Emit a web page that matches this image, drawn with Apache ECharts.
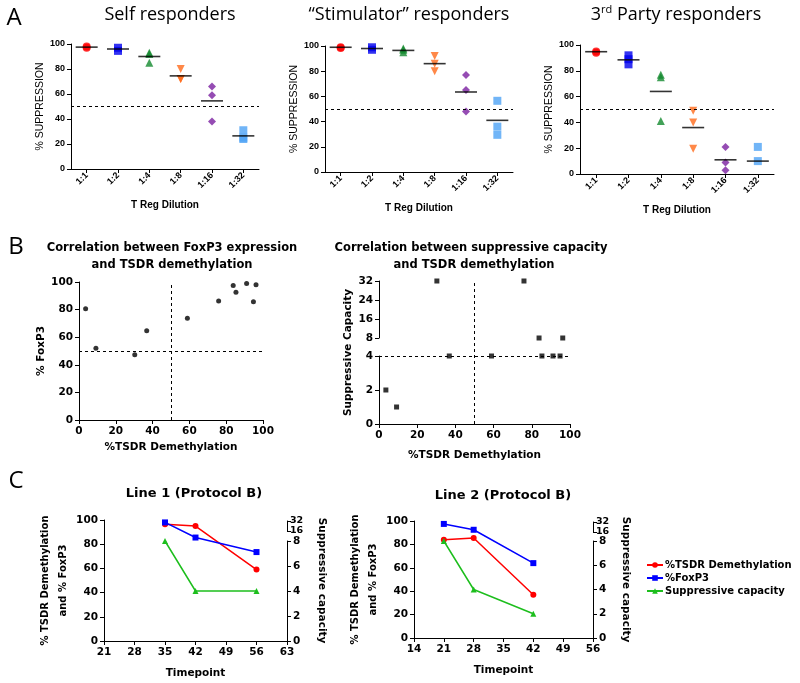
<!DOCTYPE html>
<html>
<head>
<meta charset="utf-8">
<script src="https://cdn.jsdelivr.net/npm/echarts@6/dist/echarts.min.js"></script>
<style>
  html, body { margin: 0; padding: 0; background: #fff; }
  #chart { width: 800px; height: 683px; }
</style>
</head>
<body>
<div id="chart"></div>
<script>
// ---- panel A : suppression by T reg dilution
var dilutions = ['1:1', '1:2', '1:4', '1:8', '1:16', '1:32'];
var selfValues = [[97, 98], [94.5, 97], [92, 93, 85], [80, 72, 72], [66, 59, 38], [31, 24, 25]];
var selfMeans = [97.5, 96, 90, 74.5, 54.5, 26.5];
var stimValues = [[98.5, 99], [97, 99], [95, 97, 98], [92, 86, 80], [77, 65, 48], [56.5, 36, 29.5]];
var stimMeans = [99, 98, 96.5, 86, 63.5, 41];
var thirdValues = [[94, 95], [92, 85, 89], [77, 75, 41], [49, 40, 19.5], [21, 9, 3], [21, 10]];
var thirdMeans = [94.8, 88.5, 64, 36, 11, 10];
var suppressionTicks = [0, 100, 20];

// ---- panel B : correlation, one entry per sample
var tsdr = [3.6, 9.2, 30.3, 36.8, 58.9, 75.9, 83.8, 85.3, 91.1, 94.8, 96.2];
var foxp3 = [80.6, 52, 47.2, 64.6, 73.8, 86.3, 97.4, 92.6, 99, 85.6, 98];
var capacity = [2, 1, 32, 4, 4, 32, 8, 4, 4, 4, 8];

// ---- panel C : time courses
var line1Days = [35, 42, 56];
var line1Tsdr = [96.5, 95, 59];
var line1Foxp3 = [98, 85.5, 73.5];
var line1Capacity = [8, 4, 4];
var line2Days = [21, 28, 42];
var line2Tsdr = [84, 85.5, 37];
var line2Foxp3 = [97.5, 92.5, 64];
var line2Capacity = [8, 4, 2];

var dotColors = ['#FF0000', '#0000EE', '#138A2E', '#FF6A1A', '#7A1FA0', '#4DA3F5'];
var dotSymbols = ['circle', 'rect', 'triangle', 'triangle', 'diamond', 'rect'];
var dotRotate = [0, 0, 0, 180, 0, 0];
var lineColors = { tsdr: '#FF0000', foxp3: '#0000FF', cap: '#1DBE1D' };

var gpFont = 'DejaVu Sans';
var arFont = 'Liberation Sans';

function axisBase(fontSize, family) {
    return {
        axisLine: { show: true, lineStyle: { color: '#000', width: 1 } },
        axisTick: { show: true, length: 4, lineStyle: { color: '#000', width: 1 } },
        axisLabel: { color: '#000', fontWeight: 'bold', fontSize: fontSize, fontFamily: family, margin: 6 },
        splitLine: { show: false }
    };
}
function merge(a, b) {
    for (var k in b) { a[k] = b[k]; }
    return a;
}
function hiddenAxis(grid, min, max) {
    return { type: 'value', gridIndex: grid, min: min, max: max, show: false, splitLine: { show: false } };
}
function nameOnly(grid, name, pos, gap, rot) {
    return {
        type: 'value', gridIndex: grid, position: pos, min: 0, max: 1,
        axisLine: { show: false }, axisTick: { show: false }, axisLabel: { show: false }, splitLine: { show: false },
        name: name, nameLocation: 'middle', nameGap: gap, nameRotate: rot,
        nameTextStyle: { color: '#000', fontWeight: 'bold', fontSize: 10.5, fontFamily: gpFont, lineHeight: 17 }
    };
}
var dashed = { type: [3, 3], color: '#000', width: 1 };

var grids = [
    { left: 71, top: 44, width: 188, height: 125 },
    { left: 325, top: 46, width: 188, height: 126 },
    { left: 580, top: 45, width: 194, height: 129 },
    { left: 79, top: 282, width: 184, height: 138 },
    { left: 379, top: 356, width: 191, height: 68 },
    { left: 379, top: 281, width: 191, height: 57 },
    { left: 379, top: 281, width: 191, height: 143 },
    { left: 104, top: 520, width: 183, height: 121 },
    { left: 104, top: 541, width: 183, height: 100 },
    { left: 104, top: 521, width: 183, height: 10 },
    { left: 414, top: 521, width: 179, height: 117 },
    { left: 414, top: 541, width: 179, height: 97 },
    { left: 414, top: 522, width: 179, height: 10 }
];

var xAxes = [];
var yAxes = [];
for (var g = 0; g < 3; g++) {
    xAxes.push(merge(axisBase(9, arFont), {
        type: 'category', gridIndex: g, data: dilutions,
        axisTick: { show: true, alignWithLabel: true, length: 4, lineStyle: { color: '#000' } },
        name: 'T Reg Dilution', nameLocation: 'middle', nameGap: 31,
        nameTextStyle: { color: '#000', fontWeight: 'bold', fontSize: 10, fontFamily: arFont }
    }));
    xAxes[g].axisLabel.rotate = 45;
    xAxes[g].axisLabel.margin = 5;
    yAxes.push(merge(axisBase(9, arFont), {
        type: 'value', gridIndex: g, min: suppressionTicks[0], max: suppressionTicks[1], interval: suppressionTicks[2],
        name: '% SUPPRESSION', nameLocation: 'middle', nameGap: 24,
        nameTextStyle: { color: '#000', fontSize: 10.5, fontFamily: arFont }
    }));
}
// B left
xAxes.push(merge(axisBase(10.5, gpFont), {
    type: 'value', gridIndex: 3, min: 0, max: 100, interval: 20,
    name: '%TSDR Demethylation', nameLocation: 'middle', nameGap: 22,
    nameTextStyle: { color: '#000', fontWeight: 'bold', fontSize: 10.5, fontFamily: gpFont }
}));
yAxes.push(merge(axisBase(10.5, gpFont), {
    type: 'value', gridIndex: 3, min: 0, max: 100, interval: 20,
    name: '% FoxP3', nameLocation: 'middle', nameGap: 27,
    nameTextStyle: { color: '#000', fontWeight: 'bold', fontSize: 10.5, fontFamily: gpFont }
}));
// B right (broken y axis: two grids + one for the full-height guide)
xAxes.push(merge(axisBase(10.5, gpFont), {
    type: 'value', gridIndex: 4, min: 0, max: 100, interval: 20,
    name: '%TSDR Demethylation', nameLocation: 'middle', nameGap: 26,
    nameTextStyle: { color: '#000', fontWeight: 'bold', fontSize: 10.5, fontFamily: gpFont }
}));
yAxes.push(merge(axisBase(10.5, gpFont), { type: 'value', gridIndex: 4, min: 0, max: 4, interval: 2 }));
xAxes.push(hiddenAxis(5, 0, 100));
yAxes.push(merge(axisBase(10.5, gpFont), { type: 'value', gridIndex: 5, min: 8, max: 32, interval: 8 }));
xAxes.push(hiddenAxis(6, 0, 100));
yAxes.push(nameOnly(6, 'Suppressive Capacity', 'left', 22, 90));

// C panels
function panelC(main, lower, upper, xmin, xmax) {
    xAxes.push(merge(axisBase(10.5, gpFont), {
        type: 'value', gridIndex: main, min: xmin, max: xmax, interval: 7,
        name: 'Timepoint', nameLocation: 'middle', nameGap: 27,
        nameTextStyle: { color: '#000', fontWeight: 'bold', fontSize: 10.5, fontFamily: gpFont }
    }));
    yAxes.push(merge(axisBase(10.5, gpFont), {
        type: 'value', gridIndex: main, min: 0, max: 100, interval: 20,
        name: '% TSDR Demethylation\nand % FoxP3', nameLocation: 'middle', nameGap: 25,
        nameTextStyle: { color: '#000', fontWeight: 'bold', fontSize: 10, fontFamily: gpFont, lineHeight: 18 }
    }));
    xAxes.push(hiddenAxis(lower, xmin, xmax));
    yAxes.push(merge(axisBase(10.5, gpFont), { type: 'value', gridIndex: lower, position: 'right', min: 0, max: 8, interval: 2 }));
    xAxes.push(hiddenAxis(upper, xmin, xmax));
    var up = merge(axisBase(9.5, gpFont), { type: 'value', gridIndex: upper, position: 'right', min: 16, max: 32, interval: 16 });
    up.axisLabel.margin = 3;
    yAxes.push(up);
}
panelC(7, 8, 9, 21, 63);
panelC(10, 11, 12, 14, 56);
yAxes.push(nameOnly(7, 'Suppressive capacity', 'right', 26, -90));
yAxes.push(nameOnly(10, 'Suppressive capacity', 'right', 24, -90));

var series = [];
function dotPlot(idx, values, means) {
    for (var i = 0; i < dilutions.length; i++) {
        series.push({
            type: 'scatter', xAxisIndex: idx, yAxisIndex: idx,
            symbol: dotSymbols[i], symbolRotate: dotRotate[i], symbolSize: 8,
            itemStyle: { color: dotColors[i] },
            data: values[i].map(function (v) { return [dilutions[i], v]; }), z: 2
        });
    }
    series.push({
        type: 'scatter', xAxisIndex: idx, yAxisIndex: idx,
        symbol: 'rect', symbolSize: [22, 1.6], itemStyle: { color: '#000' },
        data: means.map(function (m, i) { return [dilutions[i], m]; }), z: 3,
        markLine: { silent: true, symbol: 'none', label: { show: false }, lineStyle: dashed, data: [{ yAxis: 50 }] }
    });
}
dotPlot(0, selfValues, selfMeans);
dotPlot(1, stimValues, stimMeans);
dotPlot(2, thirdValues, thirdMeans);

// B left
series.push({
    type: 'scatter', xAxisIndex: 3, yAxisIndex: 3, symbol: 'circle', symbolSize: 5,
    itemStyle: { color: '#000' },
    data: tsdr.map(function (t, i) { return [t, foxp3[i]]; }),
    markLine: { silent: true, symbol: 'none', label: { show: false }, lineStyle: dashed,
        data: [{ xAxis: 50 }, { yAxis: 50 }] }
});
// B right
var lowPts = [], highPts = [];
for (var i = 0; i < tsdr.length; i++) {
    if (capacity[i] <= 4) lowPts.push([tsdr[i], capacity[i]]);
    else highPts.push([tsdr[i], capacity[i]]);
}
series.push({
    type: 'scatter', xAxisIndex: 4, yAxisIndex: 4, symbol: 'rect', symbolSize: 5,
    itemStyle: { color: '#000' }, data: lowPts, z: 3,
    markLine: { silent: true, symbol: 'none', label: { show: false }, lineStyle: dashed, data: [{ yAxis: 4 }] }
});
series.push({
    type: 'scatter', xAxisIndex: 5, yAxisIndex: 5, symbol: 'rect', symbolSize: 5,
    itemStyle: { color: '#000' }, data: highPts, z: 3
});
series.push({
    type: 'scatter', xAxisIndex: 6, yAxisIndex: 6, data: [],
    markLine: { silent: true, symbol: 'none', label: { show: false }, lineStyle: dashed, data: [{ xAxis: 50 }] }
});

function timeLine(name, xi, yi, days, vals, color, symbol) {
    series.push({
        name: name, type: 'line', xAxisIndex: xi, yAxisIndex: yi,
        symbol: symbol, symbolSize: 6, color: color,
        lineStyle: { width: 1.5, color: color }, itemStyle: { color: color },
        data: days.map(function (d, i) { return [d, vals[i]]; })
    });
}
timeLine('%TSDR Demethylation', 7, 7, line1Days, line1Tsdr, lineColors.tsdr, 'circle');
timeLine('%FoxP3', 7, 7, line1Days, line1Foxp3, lineColors.foxp3, 'rect');
timeLine('Suppressive capacity', 8, 8, line1Days, line1Capacity, lineColors.cap, 'triangle');
timeLine('%TSDR Demethylation', 10, 10, line2Days, line2Tsdr, lineColors.tsdr, 'circle');
timeLine('%FoxP3', 10, 10, line2Days, line2Foxp3, lineColors.foxp3, 'rect');
timeLine('Suppressive capacity', 11, 11, line2Days, line2Capacity, lineColors.cap, 'triangle');

function label(text, x, y, size, weight, family, extra) {
    var st = { text: text, fill: '#000', font: weight + ' ' + size + 'px "' + family + '"',
        textAlign: 'center', textVerticalAlign: 'middle' };
    if (extra) merge(st, extra);
    return { type: 'text', x: x, y: y, style: st, z: 10 };
}

var option = {
    animation: false,
    backgroundColor: '#fff',
    grid: grids,
    xAxis: xAxes,
    yAxis: yAxes,
    series: series,
    legend: {
        orient: 'vertical', left: 641, top: 555, itemGap: 3, itemWidth: 16, itemHeight: 7,
        data: ['%TSDR Demethylation', '%FoxP3', 'Suppressive capacity'],
        textStyle: { color: '#000', fontWeight: 'bold', fontSize: 10, fontFamily: gpFont, padding: [0, 0, 0, -3] }
    },
    graphic: [
        label('A', 14, 18, 24, 'normal', 'Open Sans'),
        label('B', 16, 247, 24, 'normal', 'Open Sans'),
        label('C', 16, 481, 24, 'normal', 'Open Sans'),
        label('Self responders', 170, 15, 18, 'normal', 'Open Sans'),
        label('\u201cStimulator\u201d responders', 409, 15, 18, 'normal', 'Open Sans'),
        label('3{s|rd} Party responders', 676, 15, 18, 'normal', 'Open Sans',
            { rich: { s: { fontSize: 11, fontFamily: 'Open Sans', verticalAlign: 'top', lineHeight: 22 } } }),
        label('Correlation between FoxP3 expression', 172, 248, 11.5, 'bold', gpFont),
        label('and TSDR demethylation', 172, 265, 11.5, 'bold', gpFont),
        label('Correlation between suppressive capacity', 471, 248, 11.5, 'bold', gpFont),
        label('and TSDR demethylation', 474, 265, 11.5, 'bold', gpFont),
        label('Line 1 (Protocol B)', 194, 494, 13, 'bold', gpFont),
        label('Line 2 (Protocol B)', 503, 496, 13, 'bold', gpFont)
    ]
};

var myChart = echarts.init(document.getElementById('chart'));
myChart.setOption(option);
</script>
</body>
</html>
